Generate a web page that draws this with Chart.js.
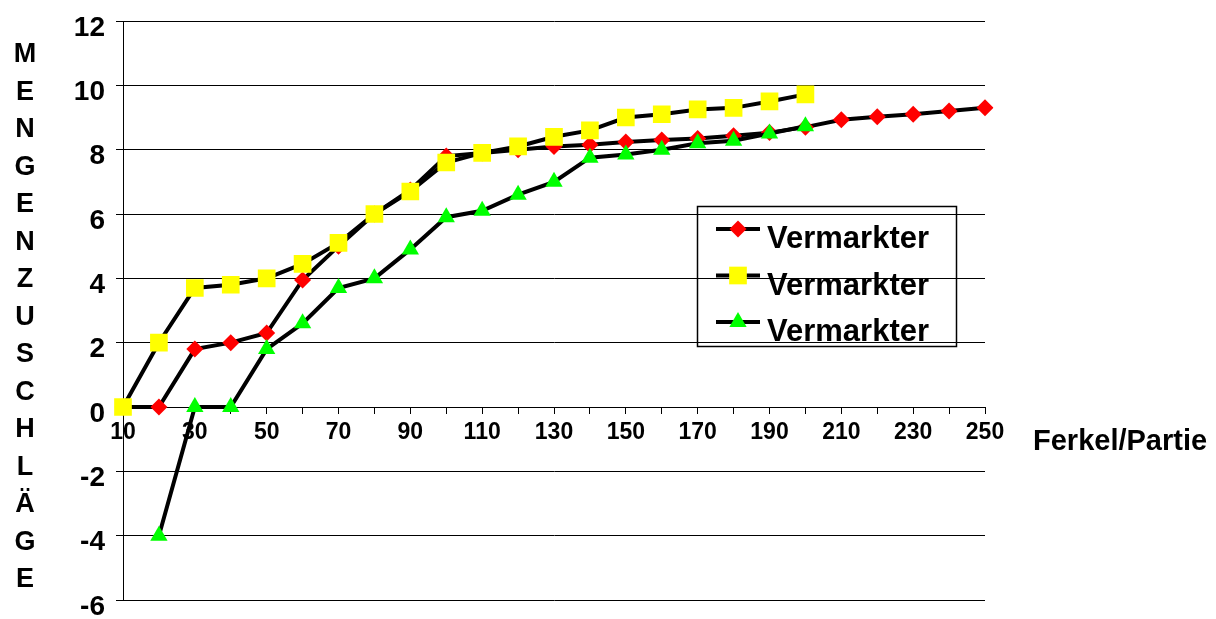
<!DOCTYPE html>
<html lang="de">
<head>
<meta charset="UTF-8">
<title>Mengenzuschläge</title>
<script src="https://cdn.jsdelivr.net/npm/chart.js@4.4.1/dist/chart.umd.min.js"></script>
<style>
  html, body { margin: 0; padding: 0; background: #fff; }
  #wrap { width: 1216px; height: 619px; }
</style>
</head>
<body>
<div id="wrap"><canvas id="myChart"></canvas></div>
<script>
// Ferkel pro Partie (x categories)
const ferkel = [10, 20, 30, 40, 50, 60, 70, 80, 90, 100, 110, 120, 130, 140, 150, 160, 170, 180, 190, 200, 210, 220, 230, 240, 250];
const yTicks = [-6, -4, -2, 0, 2, 4, 6, 8, 10, 12];
const seriesNames = ["Vermarkter", "Vermarkter", "Vermarkter"];
// red diamonds
const vermarkter1 = [0, 0, 1.8, 2.0, 2.3, 3.95, 5.0, 6.0, 6.75, 7.8, 7.9, 8.0, 8.1, 8.15, 8.24, 8.3, 8.35, 8.43, 8.53, 8.7, 8.93, 9.02, 9.1, 9.2, 9.3];
// yellow squares
const vermarkter2 = [0, 2.0, 3.7, 3.8, 4.0, 4.45, 5.1, 6.0, 6.7, 7.6, 7.9, 8.1, 8.4, 8.6, 9.0, 9.1, 9.25, 9.3, 9.5, 9.72, null, null, null, null, null];
// green triangles
const vermarkter3 = [null, -4, 0, 0, 1.8, 2.6, 3.7, 4.0, 4.9, 5.9, 6.1, 6.6, 7.0, 7.75, 7.85, 8.0, 8.2, 8.28, 8.5, 8.73, null, null, null, null, null];

const yTitle = "MENGENZUSCHLÄGE";
const xTitle = "Ferkel/Partie";

const FONT = "'Liberation Sans', Arial, sans-serif";

// extra texts + legend box
const extras = {
  id: "extras",
  afterDraw(chart) {
    const ctx = chart.ctx;
    ctx.save();
    ctx.fillStyle = "#000";
    // vertical stacked y title
    ctx.font = "bold 27px " + FONT;
    ctx.textAlign = "center";
    ctx.textBaseline = "middle";
    for (let i = 0; i < yTitle.length; i++) {
      ctx.fillText(yTitle[i], 25, 55 + i * 37.5);
    }
    // x title right of the axis
    ctx.font = "bold 29px " + FONT;
    ctx.textAlign = "left";
    ctx.textBaseline = "alphabetic";
    ctx.fillText(xTitle, 1033, 450);

    // legend
    ctx.strokeStyle = "#000";
    ctx.lineWidth = 1.5;
    ctx.strokeRect(697.5, 206.5, 259, 140);
    const ds = chart.data.datasets;
    for (let i = 0; i < ds.length; i++) {
      const y = 229 + i * 46.5;
      ctx.strokeStyle = ds[i].borderColor;
      ctx.lineWidth = ds[i].borderWidth;
      ctx.beginPath();
      ctx.moveTo(716, y);
      ctx.lineTo(760, y);
      ctx.stroke();
      ctx.fillStyle = ds[i].pointBackgroundColor;
      Chart.helpers.drawPoint(ctx, {
        pointStyle: ds[i].pointStyle,
        radius: ds[i].pointRadius,
        rotation: 0,
        borderWidth: 0
      }, 738, y);
      ctx.fillStyle = "#000";
      ctx.font = "bold 31px " + FONT;
      ctx.textAlign = "left";
      ctx.textBaseline = "alphabetic";
      ctx.fillText(ds[i].label, 767, y + 19);
    }
    ctx.restore();
  }
};

function lineSet(label, data, color, style, r, order) {
  return {
    label: label,
    data: data,
    borderColor: "#000",
    borderWidth: 4,
    pointStyle: style,
    pointRadius: r,
    pointHoverRadius: r,
    pointBackgroundColor: color,
    pointBorderColor: color,
    pointBorderWidth: 0,
    tension: 0,
    spanGaps: false,
    order: order
  };
}

new Chart("myChart", {
  type: "line",
  data: {
    labels: ferkel,
    datasets: [
      lineSet(seriesNames[0], vermarkter1, "#FF0000", "rectRot", 8.5, 3),
      lineSet(seriesNames[1], vermarkter2, "#FFFF00", "rect", 12.5, 2),
      lineSet(seriesNames[2], vermarkter3, "#00FF00", "triangle", 10, 1)
    ]
  },
  options: {
    responsive: true,
    maintainAspectRatio: false,
    animation: false,
    layout: { padding: { left: 0, right: 231, top: 21, bottom: 19 } },
    plugins: {
      legend: { display: false },
      tooltip: { enabled: false }
    },
    scales: {
      x: {
        position: { y: 0 },
        offset: false,
        afterFit: (scale) => { scale.height = 0; },
        grid: { display: true, drawOnChartArea: false, drawTicks: true, tickLength: 6, color: "#000", lineWidth: 1 },
        border: { display: true, color: "#000", width: 1 },
        ticks: {
          autoSkip: false,
          maxRotation: 0,
          padding: 6,
          color: "#000",
          font: { family: FONT, size: 23, weight: "bold" },
          callback: function (val, idx) {
            return idx % 2 === 0 ? this.getLabelForValue(val) : "";
          }
        }
      },
      y: {
        min: yTicks[0],
        max: yTicks[yTicks.length - 1],
        afterFit: (scale) => {
          scale.width = 123;
          scale.paddingTop = 0;
          scale.paddingBottom = 0;
        },
        afterBuildTicks: (scale) => { scale.ticks = yTicks.map(v => ({ value: v })); },
        grid: { color: "#000", lineWidth: 1, tickLength: 7 },
        border: { display: true, color: "#000", width: 1 },
        ticks: {
          padding: 11,
          color: "#000",
          font: { family: FONT, size: 28, weight: "bold", lineHeight: 0.5 },
          // empty first line pushes the number a bit below its gridline, like the original
          callback: (v) => ["", String(v)]
        }
      }
    }
  },
  plugins: [extras]
});
</script>
</body>
</html>
